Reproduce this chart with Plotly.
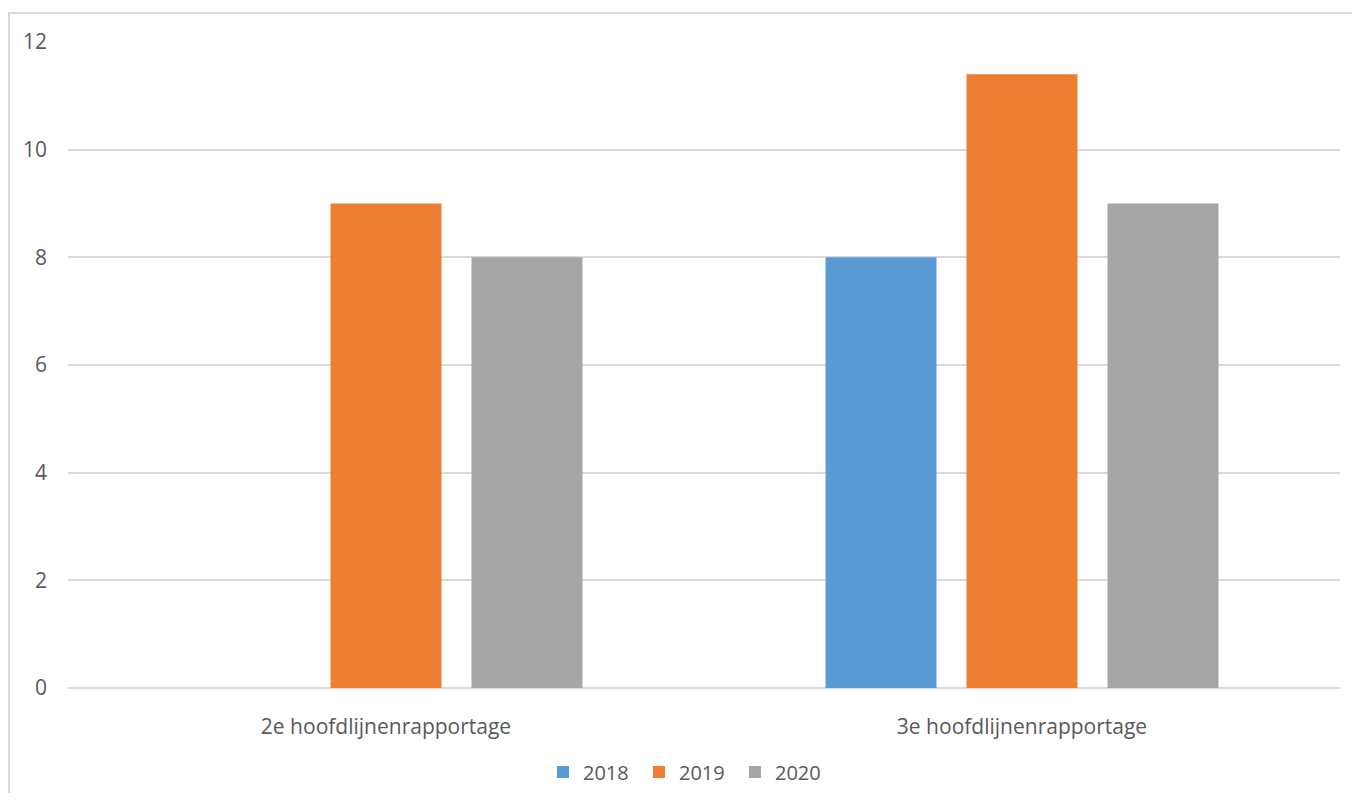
import plotly.graph_objects as go

categories = ["2e hoofdlijnenrapportage", "3e hoofdlijnenrapportage"]
series_names = ["2018", "2019", "2020"]
values_2018 = [None, 8]
values_2019 = [9, 11.4]
values_2020 = [8, 9]
y_ticks = [0, 2, 4, 6, 8, 10, 12]

colors = ["#5B9BD5", "#ED7D31", "#A5A5A5"]
series_values = [values_2018, values_2019, values_2020]

fig = go.Figure()
for name, vals, col in zip(series_names, series_values, colors):
    fig.add_trace(go.Bar(x=categories, y=vals, name=name, marker=dict(color=col, line=dict(width=0))))

font_family = "Open Sans, Liberation Sans, sans-serif"
# page body has an 8px margin; compensate so the plot lands where the reference has it
OFF = 8
W, H = 1360 - 2 * OFF, 801 - 2 * OFF
L, R, T, B = 68 - OFF, 1352 - 1340, 42 - OFF, 793 - 688
pw, ph = W - L - R, H - T - B

fig.update_layout(
    width=W, height=H,
    margin=dict(l=L, r=R, t=T, b=B, autoexpand=False),
    paper_bgcolor="white", plot_bgcolor="white",
    barmode="group", bargap=0.335, bargroupgap=0.213,
    font=dict(family=font_family, size=21, color="#595959"),
    legend=dict(orientation="h", xref="container", yref="container",
                x=(563 - 20 - OFF) / W, xanchor="left", y=(H - (772 - OFF)) / H, yanchor="middle",
                font=dict(size=20, color="#595959"), itemwidth=30, entrywidth=51,
                traceorder="normal"),
    xaxis=dict(showgrid=False, showline=False, ticks="", tickfont=dict(size=21, color="#595959"),
               ticklabelstandoff=24),
    yaxis=dict(range=[0, 12], tickvals=y_ticks, showgrid=True, gridcolor="#d9d9d9", gridwidth=1.5,
               zeroline=True, zerolinecolor="#d9d9d9", zerolinewidth=1.5, showline=False, ticks="",
               tickfont=dict(size=21, color="#595959"), ticklabelstandoff=20),
    shapes=[dict(type="rect", xref="paper", yref="paper",
                 x0=(9 - 68) / pw, x1=(1366 - 68) / pw,
                 y0=(688 - 808) / ph, y1=1 + (42 - 13) / ph,
                 line=dict(color="#d9d9d9", width=2), fillcolor="rgba(0,0,0,0)", layer="below")],
)

fig.write_html("out.html")
